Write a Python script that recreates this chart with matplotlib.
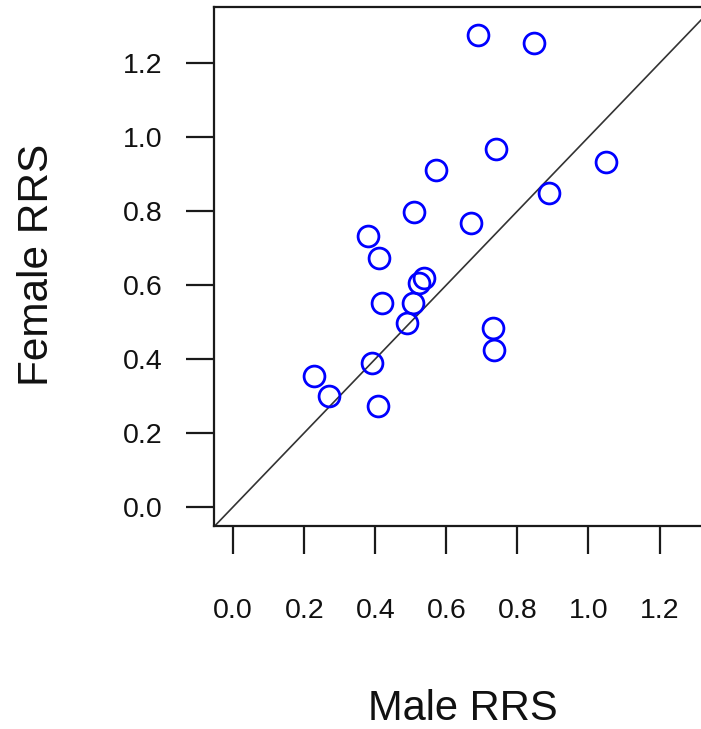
import matplotlib
matplotlib.use("Agg")
import matplotlib.pyplot as plt

plt.rcParams['font.family'] = ['Liberation Sans', 'DejaVu Sans']

# relative reproductive success, males vs females
male_rrs = [0.689, 0.848, 0.739, 1.050, 0.889, 0.669, 0.571, 0.508, 0.379, 0.411,
            0.538, 0.523, 0.507, 0.418, 0.490, 0.730, 0.735, 0.392, 0.228, 0.270, 0.407]
female_rrs = [1.277, 1.255, 0.969, 0.932, 0.848, 0.769, 0.911, 0.797, 0.733, 0.673,
              0.619, 0.605, 0.551, 0.551, 0.497, 0.484, 0.425, 0.388, 0.353, 0.299, 0.272]
ticks = [0.0, 0.2, 0.4, 0.6, 0.8, 1.0, 1.2]
tick_labels = ["0.0", "0.2", "0.4", "0.6", "0.8", "1.0", "1.2"]

fig = plt.figure(figsize=(7.01, 7.29), dpi=100)
# R-style plot region; right edge runs past the cropped image
ax = fig.add_axes((214 / 701, 1 - 526 / 729, 518 / 701, 519 / 729))

ax.plot(male_rrs, female_rrs, 'o', markerfacecolor='none', markeredgecolor='#0000ff',
        markersize=15, markeredgewidth=2.0, zorder=3)
ax.axline((0, 0), slope=1, color='#333333', lw=1.2, zorder=2)

ax.set_xlim(-0.054, 1.404)
ax.set_ylim(-0.052, 1.352)
ax.set_xticks(ticks)
ax.set_xticklabels(tick_labels)
ax.set_yticks(ticks)
ax.set_yticklabels(tick_labels)

for sp in ax.spines.values():
    sp.set_linewidth(1.6)
    sp.set_color('#1a1a1a')

ax.tick_params(axis='both', direction='out', length=20, width=1.6, color='#1a1a1a',
               labelsize=20.5, labelcolor='#111111')
ax.tick_params(axis='x', pad=32)
ax.tick_params(axis='y', pad=17)

fig.text(463 / 701, 1 - 719.5 / 729, "Male RRS", ha='center', va='baseline',
         fontsize=30, color='#111111')
fig.text(37 / 701, 1 - 265 / 729, "Female RRS", ha='center', va='center',
         rotation=90, fontsize=30.5, color='#111111')

fig.savefig("out.png", dpi=100)
